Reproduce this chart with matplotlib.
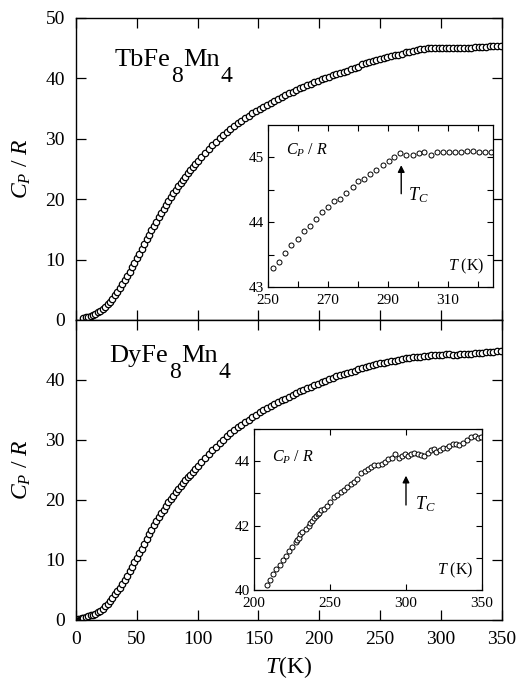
import numpy as np
import matplotlib
matplotlib.use('Agg')
import matplotlib.pyplot as plt

plt.rcParams['font.family'] = ['Liberation Serif', 'DejaVu Serif']
plt.rcParams['mathtext.fontset'] = 'custom'
plt.rcParams['mathtext.rm'] = 'Liberation Serif'
plt.rcParams['mathtext.it'] = 'Liberation Serif:italic'

# TbFe8Mn4, main curve (T in K, Cp/R)
tb_T = [6, 8, 10, 12, 14, 16, 18, 20, 22, 24, 26, 28, 30, 32, 34, 36, 38, 40, 42, 44,
        46, 48, 50, 52, 54, 56, 58, 60, 62, 64, 66, 68, 70, 72, 74, 76, 78, 80, 82, 84,
        86, 88, 90, 92, 94, 96, 98, 100, 103, 106, 109, 112, 115, 118, 121, 124, 127, 130,
        133, 136, 139, 142, 145, 148, 151, 154, 157, 160, 163, 166, 169, 172, 175, 178,
        181, 184, 187, 190, 193, 196, 199, 202, 205, 208, 211, 214, 217, 220, 223, 226,
        229, 232, 235, 238, 241, 244, 247, 250, 253, 256, 259, 262, 265, 268, 271, 274,
        277, 280, 283, 286, 289, 292, 295, 298, 301, 304, 307, 310, 313, 316, 319, 322,
        325, 328, 331, 334, 337, 340, 343, 346, 349]
tb_C = [0.35, 0.42, 0.55, 0.68, 0.83, 1.02, 1.28, 1.55, 1.85, 2.2, 2.6, 3.0, 3.55, 4.1,
        4.7, 5.3, 6.0, 6.7, 7.35, 8.0, 8.75, 9.5, 10.3, 11.0, 11.8, 12.6, 13.4, 14.1,
        14.85, 15.6, 16.3, 17.05, 17.75, 18.45, 19.1, 19.75, 20.35, 20.95, 21.55, 22.1,
        22.65, 23.2, 23.75, 24.3, 24.8, 25.3, 25.8, 26.3, 27.0, 27.7, 28.3, 28.9, 29.5,
        30.1, 30.6, 31.1, 31.6, 32.1, 32.6, 33.0, 33.4, 33.8, 34.2, 34.6, 34.95, 35.3,
        35.65, 36.0, 36.3, 36.6, 36.9, 37.2, 37.5, 37.8, 38.1, 38.4, 38.65, 38.9, 39.15,
        39.4, 39.65, 39.9, 40.1, 40.3, 40.5, 40.7, 40.9, 41.1, 41.3, 41.5, 41.7, 41.9,
        42.3, 42.5, 42.7, 42.9, 43.05, 43.2, 43.35, 43.5, 43.65, 43.8, 43.95, 44.1, 44.3,
        44.45, 44.6, 44.7, 44.8, 44.9, 45.0, 45.05, 45.1, 45.05, 45.1, 45.05, 45.1, 45.1,
        45.1, 45.1, 45.1, 45.1, 45.1, 45.15, 45.15, 45.2, 45.25, 45.3, 45.35, 45.4, 45.4]

# TbFe8Mn4, inset near Tc
tbi_T = [251.7, 253.7, 255.7, 257.8, 260.0, 262.0, 264.0, 266.0, 267.9, 270.0, 272.0,
         274.0, 276.0, 278.2, 280.1, 282.1, 284.1, 286.1, 288.2, 290.2, 292.1, 294.1,
         296.1, 298.2, 300.2, 302.1, 304.2, 306.2, 308.2, 310.2, 312.3, 314.2, 316.3,
         318.3, 320.3, 322.3, 324.3]
tbi_C = [43.29, 43.39, 43.52, 43.65, 43.74, 43.87, 43.94, 44.05, 44.16, 44.24, 44.32,
         44.36, 44.45, 44.54, 44.64, 44.67, 44.74, 44.80, 44.88, 44.94, 45.01, 45.07,
         45.04, 45.04, 45.07, 45.09, 45.04, 45.09, 45.08, 45.08, 45.08, 45.09, 45.10,
         45.10, 45.09, 45.08, 45.08]

# DyFe8Mn4, main curve
dy_T = [2, 3, 4, 5, 6, 8, 10, 12, 14, 16, 18, 20, 22, 24, 26, 28, 30, 32, 34, 36, 38,
        40, 42, 44, 46, 48, 50, 52, 54, 56, 58, 60, 62, 64, 66, 68, 70, 72, 74, 76, 78,
        80, 82, 84, 86, 88, 90, 92, 94, 96, 98, 100, 103, 106, 109, 112, 115, 118, 121,
        124, 127, 130, 133, 136, 139, 142, 145, 148, 151, 154, 157, 160, 163, 166, 169,
        172, 175, 178, 181, 184, 187, 190, 193, 196, 199, 202, 205, 208, 211, 214, 217,
        220, 223, 226, 229, 232, 235, 238, 241, 244, 247, 250, 253, 256, 259, 262, 265,
        268, 271, 274, 277, 280, 283, 286, 289, 292, 295, 298, 301, 304, 307, 310, 313,
        316, 319, 322, 325, 328, 331, 334, 337, 340, 343, 346, 349]
dy_C = [0.1, 0.15, 0.2, 0.25, 0.3, 0.45, 0.6, 0.75, 0.9, 1.05, 1.25, 1.55, 1.9, 2.25,
        2.7, 3.2, 3.7, 4.25, 4.8, 5.4, 6.0, 6.7, 7.4, 8.15, 8.85, 9.6, 10.35, 11.1, 11.9,
        12.7, 13.5, 14.25, 15.0, 15.75, 16.45, 17.15, 17.8, 18.4, 19.0, 19.6, 20.15,
        20.7, 21.25, 21.8, 22.3, 22.8, 23.3, 23.75, 24.2, 24.65, 25.1, 25.6, 26.3, 27.0,
        27.65, 28.3, 28.9, 29.5, 30.05, 30.6, 31.1, 31.6, 32.1, 32.55, 33.0, 33.4, 33.8,
        34.2, 34.6, 35.0, 35.35, 35.7, 36.0, 36.3, 36.6, 36.9, 37.2, 37.5, 37.8, 38.1,
        38.35, 38.6, 38.85, 39.1, 39.35, 39.6, 39.85, 40.1, 40.35, 40.6, 40.8, 41.0,
        41.2, 41.4, 41.55, 41.75, 41.95, 42.1, 42.3, 42.45, 42.6, 42.75, 42.9, 43.0,
        43.1, 43.2, 43.3, 43.45, 43.6, 43.7, 43.8, 43.85, 43.9, 43.95, 44.05, 44.15,
        44.15, 44.2, 44.2, 44.25, 44.25, 44.2, 44.2, 44.3, 44.35, 44.35, 44.4, 44.45,
        44.5, 44.55, 44.6, 44.65, 44.7, 44.75, 44.75]

# DyFe8Mn4, inset near Tc
dyi_T = [208.6, 210.8, 212.8, 214.8, 217.0, 219.0, 221.1, 223.3, 225.3, 227.5, 228.5,
         229.5, 230.6, 231.8, 233.9, 235.9, 236.8, 237.9, 239.6, 240.8, 241.9, 243.0,
         244.1, 246.0, 248.0, 250.0, 252.6, 254.8, 257.0, 259.3, 261.5, 263.7, 265.6,
         267.6, 270.3, 273.1, 274.9, 276.9, 279.1, 281.3, 284.1, 286.3, 288.3, 290.5,
         292.7, 295.2, 297.4, 299.3, 301.5, 303.3, 305.5, 307.7, 309.9, 312.1, 314.3,
         316.5, 318.3, 320.0, 322.2, 324.4, 326.7, 328.6, 330.6, 332.8, 335.0, 337.2,
         339.9, 342.5, 345.2, 347.4, 349.1]
dyi_C = [40.17, 40.31, 40.49, 40.64, 40.77, 40.93, 41.07, 41.20, 41.34, 41.48, 41.55,
         41.61, 41.74, 41.80, 41.90, 42.00, 42.07, 42.15, 42.23, 42.30, 42.36, 42.40,
         42.48, 42.53, 42.62, 42.74, 42.90, 42.95, 43.03, 43.11, 43.19, 43.28, 43.35,
         43.44, 43.62, 43.69, 43.76, 43.83, 43.87, 43.87, 43.90, 43.97, 44.07, 44.11,
         44.21, 44.10, 44.15, 44.21, 44.15, 44.23, 44.26, 44.23, 44.18, 44.17, 44.26,
         44.34, 44.38, 44.30, 44.36, 44.40, 44.42, 44.46, 44.53, 44.54, 44.51, 44.58,
         44.67, 44.74, 44.77, 44.72, 44.74]

fig = plt.figure(figsize=(5.18, 6.84), dpi=100)
ax1 = fig.add_axes([0.1467, 0.5322, 0.822, 0.4415])
ax2 = fig.add_axes([0.1467, 0.0936, 0.822, 0.4386])


def style_main(ax):
    ax.set_xlim(0, 350)
    ax.set_ylim(0, 50)
    ax.set_xticks(np.arange(0, 351, 50))
    ax.set_yticks(np.arange(0, 51, 10))
    ax.tick_params(direction='in', top=True, right=True, length=7, width=0.9,
                   labelsize=14, pad=8)
    for s in ax.spines.values():
        s.set_linewidth(1.0)
    ax.set_ylabel(r'$C_P\ /\ R$', fontsize=17, labelpad=9)


def chem(ax, x, y, parts):
    # draw formula pieces one after another, subscripts nearly full size
    prev = ax.text(x, y, parts[0], transform=ax.transAxes, fontsize=19, va='bottom')
    for i, p in enumerate(parts[1:]):
        sub = (i % 2 == 0)
        dy = -11 if sub else 11
        prev = ax.annotate(p, xy=(1, 0), xycoords=prev, xytext=(0.5, dy),
                           textcoords='offset points', va='bottom',
                           fontsize=17 if sub else 19)


ax1.plot(tb_T, tb_C, 'o', mfc='white', mec='black', ms=4.6, mew=0.9)
style_main(ax1)
ax1.tick_params(labelbottom=False)
chem(ax1, 0.09, 0.823, ['TbFe', '8', 'Mn', '4'])

ax2.plot(dy_T, dy_C, 'o', mfc='white', mec='black', ms=4.6, mew=0.9)
style_main(ax2)
ax2.set_yticks(np.arange(0, 41, 10))
ax2.set_xlabel(r'$T$(K)', fontsize=17, labelpad=4)
chem(ax2, 0.078, 0.842, ['DyFe', '8', 'Mn', '4'])

# insets
in1 = fig.add_axes([0.5174, 0.5804, 0.4344, 0.2368])
in1.plot(tbi_T, tbi_C, 'o', mfc='white', mec='black', ms=3.6, mew=0.7)
in1.set_xlim(250, 325)
in1.set_ylim(43, 45.5)
in1.set_xticks([250, 270, 290, 310])
in1.set_xticks([260, 280, 300, 320], minor=True)
in1.set_yticks([43, 44, 45])
in1.set_yticks([43.5, 44.5], minor=True)
in1.annotate('', xy=(294.4, 44.88), xytext=(294.4, 44.44),
             arrowprops=dict(arrowstyle='-|>', color='black', lw=1.0,
                             mutation_scale=10, shrinkA=0, shrinkB=0))
in1.text(296.5, 44.34, r'$T_C$', fontsize=13)
in1.text(0.08, 0.82, r'$C_P\ /\ R$', transform=in1.transAxes, fontsize=11.5)
in1.text(0.96, 0.1, r'$T\ $(K)', transform=in1.transAxes, fontsize=11.5, ha='right')

in2 = fig.add_axes([0.4903, 0.1374, 0.4402, 0.2354])
in2.plot(dyi_T, dyi_C, 'o', mfc='white', mec='black', ms=3.6, mew=0.7)
in2.set_xlim(200, 350)
in2.set_ylim(40, 45)
in2.set_xticks([200, 250, 300, 350])
in2.set_yticks([40, 42, 44])
in2.set_yticks([41, 43, 45], minor=True)
in2.annotate('', xy=(300, 43.55), xytext=(300, 42.64),
             arrowprops=dict(arrowstyle='-|>', color='black', lw=1.0,
                             mutation_scale=10, shrinkA=0, shrinkB=0))
in2.text(306, 42.5, r'$T_C$', fontsize=13)
in2.text(0.08, 0.8, r'$C_P\ /\ R$', transform=in2.transAxes, fontsize=11.5)
in2.text(0.96, 0.1, r'$T\ $(K)', transform=in2.transAxes, fontsize=11.5, ha='right')

for a in (in1, in2):
    a.tick_params(which='both', direction='in', top=True, right=True, length=4.5,
                  width=0.8, labelsize=11, pad=3)
    a.tick_params(axis='x', pad=5)
    for s in a.spines.values():
        s.set_linewidth(0.9)

fig.savefig('out.png', dpi=100)
